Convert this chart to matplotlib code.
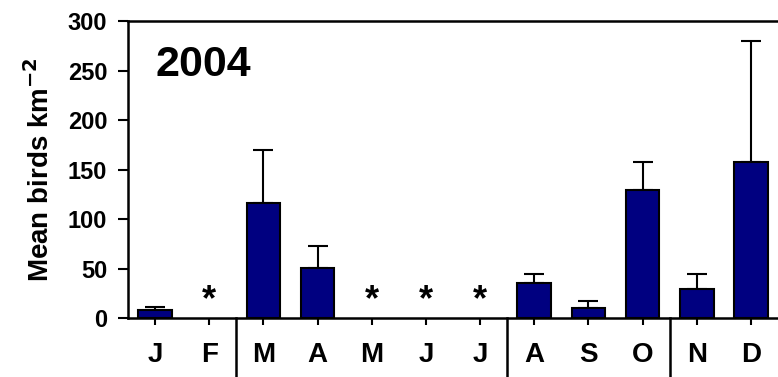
import numpy as np
import matplotlib.pyplot as plt

plt.rcParams['font.family'] = ['Liberation Sans', 'DejaVu Sans']

# Monthly means and upper standard errors (None = no survey)
months = ['J', 'F', 'M', 'A', 'M', 'J', 'J', 'A', 'S', 'O', 'N', 'D']
means = [8, None, 116, 51, None, None, None, 35, 10, 129, 29, 158]
errors = [3, None, 54, 22, None, None, None, 9, 7, 29, 15, 122]
season_breaks = [1.5, 6.5, 9.5]
star_height = 22

x = np.arange(len(months))
has_data = [m is not None for m in means]
xs = x[has_data]
ys = [m for m in means if m is not None]
es = [e for e in errors if e is not None]

fig = plt.figure(figsize=(7.78, 3.77), dpi=100)
ax = fig.add_axes([0.1645, 0.1565, 0.8355, 0.7875])

ax.bar(xs, ys, width=0.62, color='#000080', edgecolor='black', linewidth=1.5, zorder=2)
ax.errorbar(xs, ys, yerr=[np.zeros(len(es)), es], fmt='none', ecolor='black',
            elinewidth=1.5, capsize=7, capthick=1.5, zorder=1)

for xi, m in zip(x, means):
    if m is None:
        ax.text(xi, star_height - 4, '*', ha='center', va='center', fontsize=26,
                fontweight='bold')

for b in season_breaks:
    ax.plot([b, b], [0, -0.2], transform=ax.get_xaxis_transform(),
            color='black', linewidth=1.8, clip_on=False)

ax.set_xlim(-0.5, 11.5)
ax.set_ylim(0, 300)
ax.set_yticks(range(0, 301, 50))
ax.set_xticks(x)
ax.set_xticklabels(months, fontsize=20, fontweight='bold')
ax.tick_params(axis='x', length=5, width=1.5, direction='out', pad=12)
ax.tick_params(axis='y', length=7, width=1.5, direction='out', labelsize=17, pad=8)
for lab in ax.get_yticklabels():
    lab.set_fontweight('bold')

for side in ['left', 'bottom', 'top']:
    ax.spines[side].set_linewidth(1.8)
ax.spines['right'].set_visible(False)

ax.set_ylabel('Mean birds km$^{\\mathbf{-2}}$', fontsize=20, fontweight='bold', labelpad=9)
ax.text(0.043, 0.92, '2004', transform=ax.transAxes, fontsize=31,
        fontweight='bold', va='top')

fig.savefig('out.png', dpi=100)
